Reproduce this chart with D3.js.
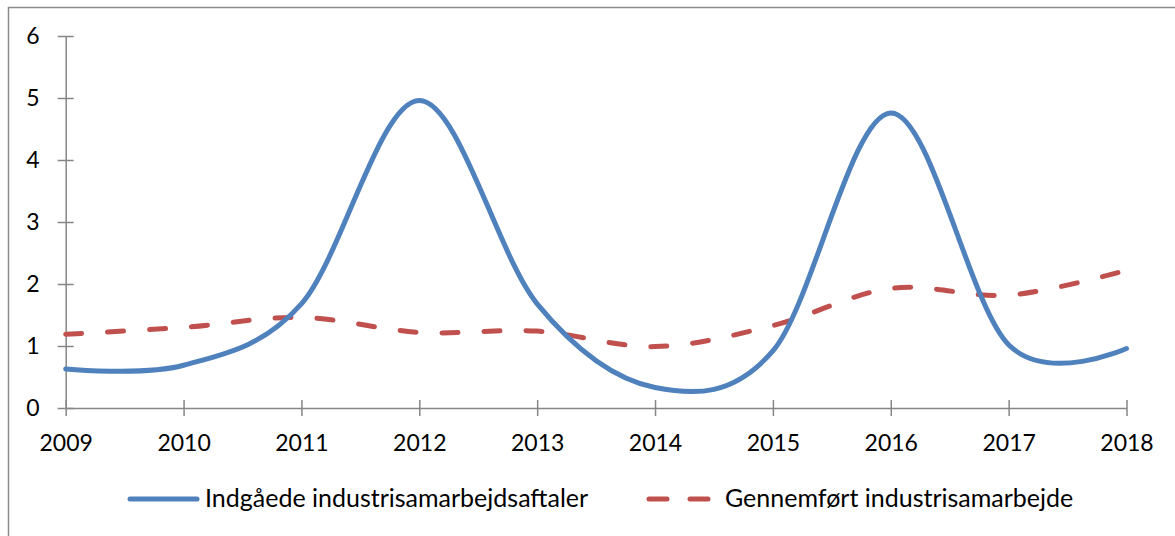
<!DOCTYPE html>
<html>
<head>
<meta charset="utf-8">
<script src="https://cdn.jsdelivr.net/npm/d3@7"></script>
<style>
  body { margin: 0; background: #fff; }
  svg { display: block; }
  text { font-family: Lato, "Open Sans", sans-serif; fill: #000; }
</style>
</head>
<body>
<div id="chart"></div>
<script>
(function () {
    "use strict";

    // values
    var years = [2009, 2010, 2011, 2012, 2013, 2014, 2015, 2016, 2017, 2018];
    var aftaler = [0.63, 0.69, 1.68, 4.96, 1.68, 0.33, 0.92, 4.76, 1.02, 0.96];
    var gennemfort = [1.19, 1.30, 1.46, 1.22, 1.24, 0.99, 1.33, 1.93, 1.82, 2.22];
    var yTicks = [0, 1, 2, 3, 4, 5, 6];
    var seriesNames = ["Indgåede industrisamarbejdsaftaler", "Gennemført industrisamarbejde"];

    var w = 1175;
    var h = 536;
    var axisColor = "#868686";
    var blue = "#4F81BD";
    var red = "#C0504D";

    var svg = d3.select("#chart")
                .append("svg")
                .attr("width", w)
                .attr("height", h);

    // chart frame (left + top only, rest is cut off)
    svg.append("path")
        .attr("d", "M8.5," + h + "V7.5H" + w)
        .attr("fill", "none")
        .attr("stroke", "#8c8c8c")
        .attr("stroke-width", 1.5);

    var x = d3.scaleLinear().domain([2009, 2018]).range([65.7, 1126.5]);
    var y = d3.scaleLinear().domain([0, 6]).range([408, 36]);

    // y axis
    svg.append("g")
        .attr("transform", "translate(" + x(2009) + ",0)")
        .call(d3.axisLeft(y).tickValues(yTicks).tickFormat(d3.format("d")).tickSize(8).tickPadding(18).tickSizeOuter(0))
        .call(function (g) {
            g.select(".domain").attr("stroke", axisColor).attr("stroke-width", 1.5);
            g.selectAll(".tick line").attr("x1", 8).attr("stroke", axisColor).attr("stroke-width", 1.5);
            g.selectAll(".tick text").attr("font-size", 23).attr("font-family", null);
        });

    // x axis
    svg.append("g")
        .attr("transform", "translate(0," + y(0) + ")")
        .call(d3.axisBottom(x).tickValues(years).tickFormat(d3.format("d")).tickSize(8).tickSizeOuter(0))
        .call(function (g) {
            g.select(".domain").attr("stroke", axisColor).attr("stroke-width", 1.5);
            g.selectAll(".tick line").attr("y1", -8).attr("stroke", axisColor).attr("stroke-width", 1.5);
            g.selectAll(".tick text").attr("font-size", 23).attr("font-family", null)
                .attr("y", 43).attr("dy", 0);
        });

    var line = d3.line()
        .x(function (d, i) { return x(years[i]); })
        .y(function (d) { return y(d); })
        .curve(d3.curveCardinal.tension(0));

    svg.append("path")
        .datum(gennemfort)
        .attr("d", line)
        .attr("fill", "none")
        .attr("stroke", red)
        .attr("stroke-width", 5)
        .attr("stroke-linecap", "round")
        .attr("stroke-dasharray", "16,26");

    svg.append("path")
        .datum(aftaler)
        .attr("d", line)
        .attr("fill", "none")
        .attr("stroke", blue)
        .attr("stroke-width", 5)
        .attr("stroke-linecap", "round");

    // legend
    var ly = 499;
    svg.append("line")
        .attr("x1", 130).attr("x2", 197).attr("y1", ly).attr("y2", ly)
        .attr("stroke", blue).attr("stroke-width", 5).attr("stroke-linecap", "round");
    svg.append("text")
        .attr("x", 205).attr("y", ly + 8)
        .attr("font-size", 25)
        .text(seriesNames[0]);

    svg.append("line")
        .attr("x1", 649).attr("x2", 712).attr("y1", ly).attr("y2", ly)
        .attr("stroke", red).attr("stroke-width", 5).attr("stroke-linecap", "round")
        .attr("stroke-dasharray", "18,23");
    svg.append("text")
        .attr("x", 725).attr("y", ly + 8)
        .attr("font-size", 25)
        .text(seriesNames[1]);
})();
</script>
</body>
</html>
